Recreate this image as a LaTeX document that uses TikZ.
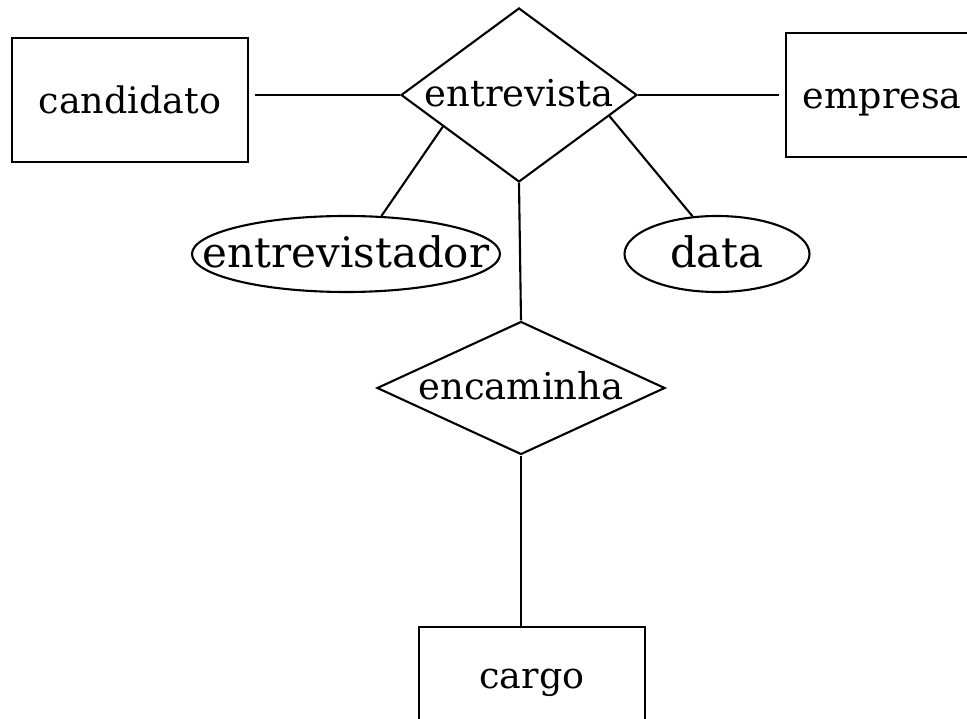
\documentclass[tikz,border=0pt]{standalone}
\usepackage{fontspec}
\setmainfont{DejaVu Serif}
\usetikzlibrary{shapes.geometric,calc,positioning}

\begin{document}
\begin{tikzpicture}[x=1pt,y=-1pt,line width=2.1pt,
  every node/.style={draw,inner sep=0pt},
  entity/.style={rectangle,font=\fontsize{36.5}{42}\selectfont,text height=31pt,text depth=4pt},
  relation/.style={diamond,font=\fontsize{37}{42}\selectfont,text height=28pt,text depth=5pt},
  attrib/.style={ellipse,font=\fontsize{42}{48}\selectfont,text height=34pt,text depth=6pt}]
\useasboundingbox (0,0) rectangle (967,719);
\node [entity,minimum width=236pt,minimum height=124pt] (Candidato) at (130,100) {candidato};
\node [relation,minimum width=236pt,minimum height=174pt] (Entrevista) at (519,95) {\makebox[0pt]{entrevista}};
\node [entity,minimum width=192pt,minimum height=124pt] (Empresa) at (882,95) {empresa};
\node [attrib,minimum width=308pt,minimum height=76pt] (Entrevistador) at (346,254) {\makebox[0pt]{entrevistador}};
\node [attrib,minimum width=185pt,minimum height=76pt] (Data) at (717,254) {\makebox[0pt]{data}};
\node [relation,minimum width=288pt,minimum height=133pt] (Encaminha) at (521,388) {\makebox[0pt]{encaminha}};
\node [entity,minimum width=226pt,minimum height=96pt] (Cargo) at (532,675) {cargo};
\draw [shorten <=6pt] (Candidato.east |- Entrevista.west) -- (Entrevista.west);
\draw [shorten >=6pt] (Entrevista.east) -- (Entrevista.east -| Empresa.west);
\draw ($(Entrevista.west)!0.36!(Entrevista.south)$) -- (Entrevistador.47);
\draw ($(Entrevista.east)!0.24!(Entrevista.south)$) -- (Data.123);
\draw (Entrevista.south) -- (Encaminha.north);
\draw (Encaminha.south) -- (Encaminha.south |- Cargo.north);
\end{tikzpicture}
\end{document}
